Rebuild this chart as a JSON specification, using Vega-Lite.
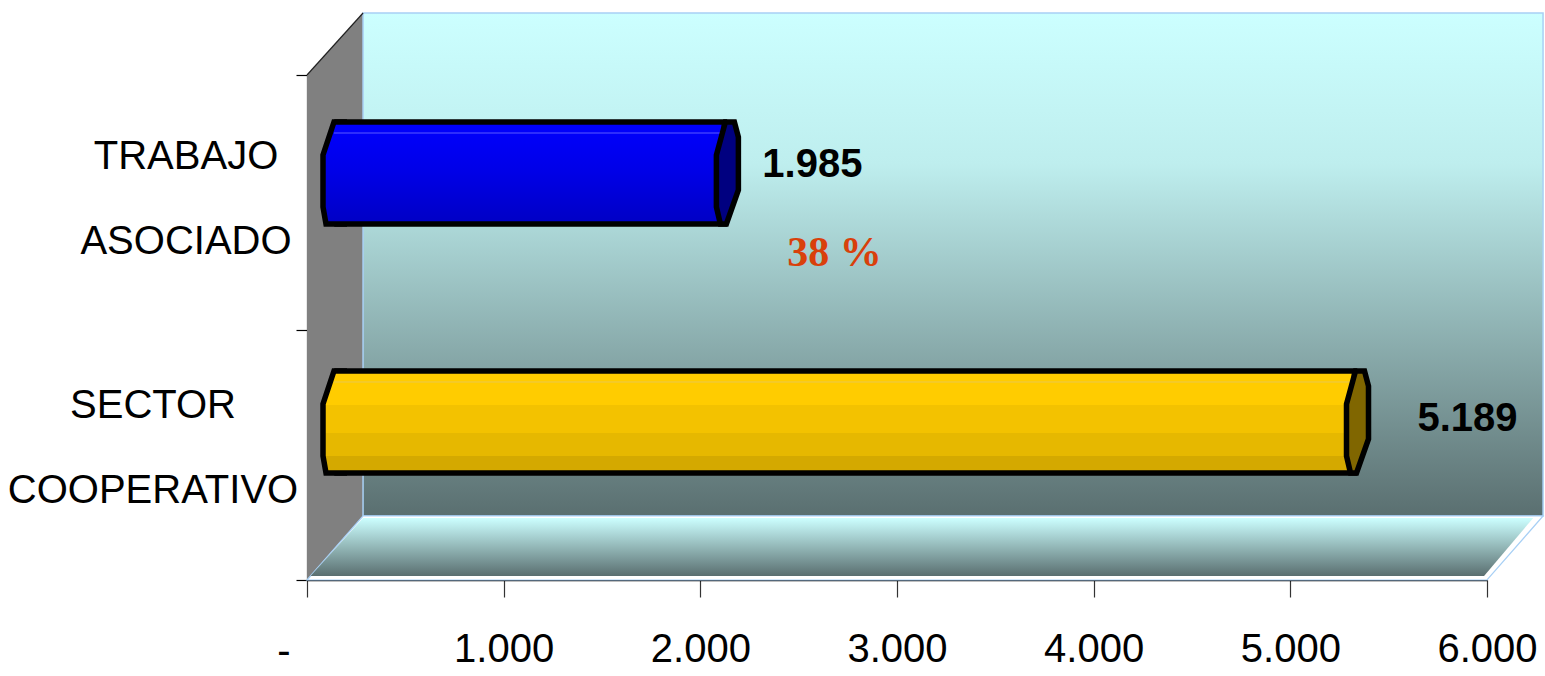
{
"$schema":"https://vega.github.io/schema/vega-lite/v6.json",
"width":1180,"height":505,
"autosize":{"type":"none"},
"padding":{"left":307,"top":75,"right":58,"bottom":96},
"background":"white",
"config":{"view":{"stroke":null},"axis":{"grid":false,"title":null}},
"datasets":{
"trabajo":[{"category":"TRABAJO ASOCIADO","name":"TRABAJO|ASOCIADO","start":0,"value":1985,"label":"1.985","share":"38 %"}],
"sector":[{"category":"SECTOR COOPERATIVO","name":"SECTOR|COOPERATIVO","start":0,"value":5189,"label":"5.189","zero":"-"}]
},
"resolve":{"scale":{"y":"independent"}},
"layer":[
{"layer":[
{"data":{"values":[{"x":0,"y":0,"y2":505},{"x":285,"y":64,"y2":567}]},
"mark":{"type":"area","orient":"vertical","color":"#808080"},
"encoding":{
"x":{"field":"x","type":"quantitative","scale":{"domain":[0,6000],"nice":false,"zero":false},
"axis":{"title":null,"values":[0,1000,2000,3000,4000,5000,6000],"labelExpr":"datum.value==0?'':replace(format(datum.value,','),',','.')","labelFont":"Liberation Sans","labelFontSize":40,"labelColor":"black","labelPadding":32,"labelFlush":false,"labelBound":false,"labelOverlap":false,"tickSize":17,"tickColor":"#333333","tickWidth":1.2,"domainColor":"black","domainWidth":1.5}},
"y":{"field":"y","type":"quantitative","scale":{"domain":[0,505],"nice":false,"zero":false},
"axis":{"title":null,"values":[0,250,505],"labels":false,"tickSize":11,"tickColor":"black","tickWidth":1.2,"domainColor":"#222222","domainWidth":1.2}},
"y2":{"field":"y2"}}},
{"data":{"values":[{"x":285,"x2":6285,"y":64,"y2":567}]},
"mark":{"type":"rect","stroke":"#A8D0F5","strokeWidth":1.5,"fill":{"x1":0,"y1":0,"x2":0,"y2":1,"gradient":"linear","stops":[{"offset":0,"color":"#CCFFFF"},{"offset":0.3,"color":"#BEEEEE"},{"offset":1,"color":"#5A6F70"}]}},
"encoding":{"x":{"field":"x","type":"quantitative"},"x2":{"field":"x2"},"y":{"field":"y","type":"quantitative"},"y2":{"field":"y2"}}},
{"data":{"values":[{"y":0,"x":0,"x2":6000},{"y":64,"x":285,"x2":6285}]},
"mark":{"type":"area","orient":"horizontal","fill":"white","stroke":"#A8D0F5","strokeWidth":1.2},
"encoding":{"y":{"field":"y","type":"quantitative"},"x":{"field":"x","type":"quantitative"},"x2":{"field":"x2"}}},
{"data":{"values":[{"y":4,"x":18,"x2":5985},{"y":62,"x":285,"x2":6235}]},
"mark":{"type":"area","orient":"horizontal","fill":{"x1":0,"y1":0,"x2":0,"y2":1,"gradient":"linear","stops":[{"offset":0,"color":"#CCFFFF"},{"offset":1,"color":"#5A6F70"}]}},
"encoding":{"y":{"field":"y","type":"quantitative"},"x":{"field":"x","type":"quantitative"},"x2":{"field":"x2"}}},
{"data":{"values":[{"x":0,"y":505},{"x":285,"y":567}]},
"mark":{"type":"line","color":"#222222","strokeWidth":1.2},
"encoding":{"x":{"field":"x","type":"quantitative"},"y":{"field":"y","type":"quantitative"}}}
]},
{"encoding":{"y":{"field":"category","type":"nominal","axis":null,"sort":["TRABAJO ASOCIADO","SECTOR COOPERATIVO"],"scale":{"domain":["TRABAJO ASOCIADO","SECTOR COOPERATIVO"],"range":[-26.5,471.5]}}},
"layer":[
{"data":{"name":"trabajo"},"mark":{"type":"bar","size":102,"stroke":"black","strokeWidth":5.5,"xOffset":30,"x2Offset":27,"fill":{"x1":0,"y1":0,"x2":0,"y2":1,"gradient":"linear","stops":[{"offset":0,"color":"#0000FF"},{"offset":0.5,"color":"#0000E6"},{"offset":1,"color":"#0000C4"}]}},
"encoding":{"x":{"field":"start","type":"quantitative"},"x2":{"field":"value"}}},
{"data":{"name":"trabajo"},"mark":{"type":"point","opacity":1,"filled":false,"size":4,"shape":"M40,-51L27,-51L16,-18L16,34L19,51L40,51","stroke":"black","strokeWidth":5.5,"fill":{"x1":0,"y1":0,"x2":0,"y2":1,"gradient":"linear","stops":[{"offset":0,"color":"#0000FF"},{"offset":0.5,"color":"#0000E6"},{"offset":1,"color":"#0000C4"}]}},
"encoding":{"x":{"field":"start","type":"quantitative"}}},
{"data":{"name":"trabajo"},"mark":{"type":"rule","color":"#5A5AFF","strokeWidth":1,"yOffset":-40,"xOffset":27,"x2Offset":24},
"encoding":{"x":{"field":"start","type":"quantitative"},"x2":{"field":"value"}}},
{"data":{"name":"trabajo"},"mark":{"type":"point","opacity":1,"filled":false,"size":4,"shape":"M28,-51L19,-18L19,34L23,51L29,51L41,17L41,-36L37,-51Z","stroke":"black","strokeWidth":5.5,"fill":"#000080"},
"encoding":{"x":{"field":"value","type":"quantitative"}}},
{"data":{"name":"trabajo"},"mark":{"type":"text","font":"Liberation Sans","fontWeight":"bold","fontSize":40,"color":"black","xOffset":115,"yOffset":-8},
"encoding":{"x":{"field":"value","type":"quantitative"},"text":{"field":"label"}}},
{"data":{"name":"trabajo"},"mark":{"type":"text","font":"Liberation Serif","fontWeight":"bold","fontSize":42,"color":"#D9400B","xOffset":137,"yOffset":80},
"encoding":{"x":{"field":"value","type":"quantitative"},"text":{"field":"share"}}},
{"data":{"name":"trabajo"},"mark":{"type":"text","font":"Liberation Sans","fontSize":40,"color":"black","lineBreak":"|","lineHeight":85,"xOffset":-121,"yOffset":-16.5},
"encoding":{"x":{"field":"start","type":"quantitative"},"text":{"field":"name"}}},
{"data":{"name":"sector"},"mark":{"type":"bar","size":102,"stroke":"black","strokeWidth":5.5,"xOffset":30,"x2Offset":27,"fill":{"x1":0,"y1":0,"x2":0,"y2":1,"gradient":"linear","stops":[{"offset":0,"color":"#FFCC00"},{"offset":0.33,"color":"#FFCC00"},{"offset":0.33,"color":"#F3C200"},{"offset":0.61,"color":"#F3C200"},{"offset":0.61,"color":"#E6B800"},{"offset":0.83,"color":"#E6B800"},{"offset":0.83,"color":"#D4A900"},{"offset":1,"color":"#D4A900"}]}},
"encoding":{"x":{"field":"start","type":"quantitative"},"x2":{"field":"value"}}},
{"data":{"name":"sector"},"mark":{"type":"point","opacity":1,"filled":false,"size":4,"shape":"M40,-51L27,-51L16,-18L16,34L19,51L40,51","stroke":"black","strokeWidth":5.5,"fill":{"x1":0,"y1":0,"x2":0,"y2":1,"gradient":"linear","stops":[{"offset":0,"color":"#FFCC00"},{"offset":0.33,"color":"#FFCC00"},{"offset":0.33,"color":"#F3C200"},{"offset":0.61,"color":"#F3C200"},{"offset":0.61,"color":"#E6B800"},{"offset":0.83,"color":"#E6B800"},{"offset":0.83,"color":"#D4A900"},{"offset":1,"color":"#D4A900"}]}},
"encoding":{"x":{"field":"start","type":"quantitative"}}},
{"data":{"name":"sector"},"mark":{"type":"rule","color":"#E8C850","strokeWidth":1,"yOffset":-40,"xOffset":27,"x2Offset":24},
"encoding":{"x":{"field":"start","type":"quantitative"},"x2":{"field":"value"}}},
{"data":{"name":"sector"},"mark":{"type":"point","opacity":1,"filled":false,"size":4,"shape":"M28,-51L19,-18L19,34L23,51L29,51L41,17L41,-36L37,-51Z","stroke":"black","strokeWidth":5.5,"fill":"#806600"},
"encoding":{"x":{"field":"value","type":"quantitative"}}},
{"data":{"name":"sector"},"mark":{"type":"text","font":"Liberation Sans","fontWeight":"bold","fontSize":40,"color":"black","xOffset":140,"yOffset":-3},
"encoding":{"x":{"field":"value","type":"quantitative"},"text":{"field":"label"}}},
{"data":{"name":"sector"},"mark":{"type":"text","font":"Liberation Sans","fontSize":40,"color":"black","lineBreak":"|","lineHeight":85,"xOffset":-154,"yOffset":-16.5},
"encoding":{"x":{"field":"start","type":"quantitative"},"text":{"field":"name"}}},
{"data":{"name":"sector"},"mark":{"type":"text","font":"Liberation Sans","fontSize":40,"color":"black","xOffset":-23,"yOffset":230},
"encoding":{"x":{"field":"start","type":"quantitative"},"text":{"field":"zero"}}}
]}
]
}
